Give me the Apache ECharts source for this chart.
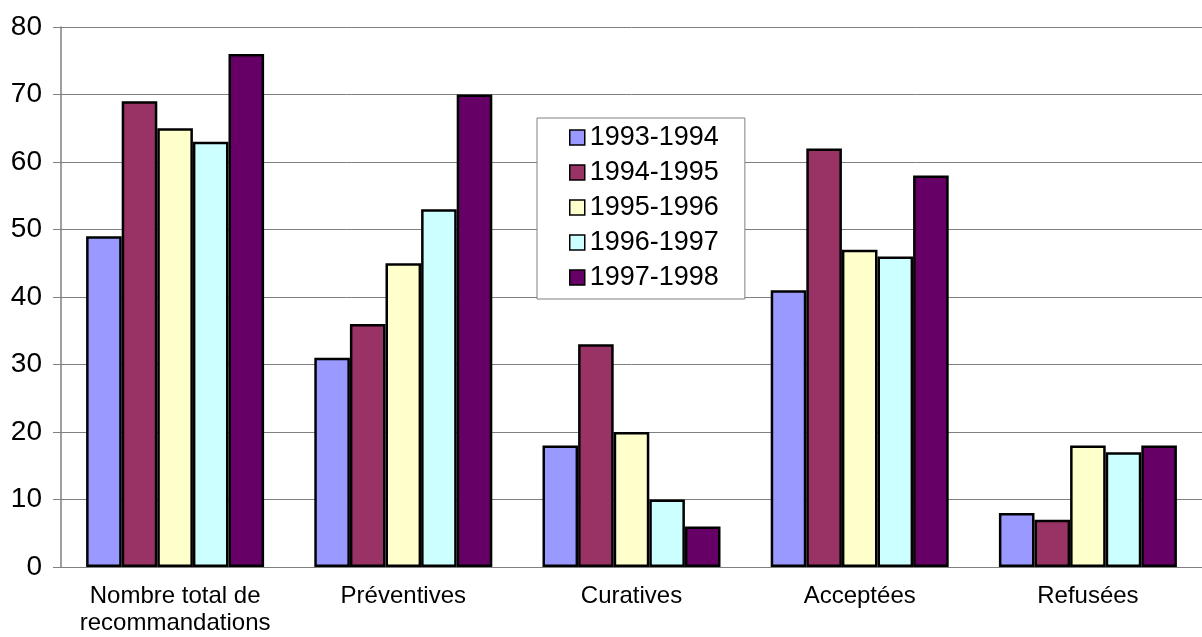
<!DOCTYPE html>
<html>
<head>
<meta charset="utf-8">
<title>Recommandations</title>
<script src="https://cdn.jsdelivr.net/npm/echarts@6/dist/echarts.min.js"></script>
<style>
  html, body { margin: 0; padding: 0; background: #fff; }
  #chart { width: 1202px; height: 637px; }
</style>
</head>
<body>
<div id="chart"></div>
<script>
const categories = ['Nombre total de\nrecommandations', 'Préventives', 'Curatives', 'Acceptées', 'Refusées']
const seriesNames = ['1993-1994', '1994-1995', '1995-1996', '1996-1997', '1997-1998']
const v1993 = [49, 31, 18, 41, 8]
const v1994 = [69, 36, 33, 62, 7]
const v1995 = [65, 45, 20, 47, 18]
const v1996 = [63, 53, 10, 46, 17]
const v1997 = [76, 70, 6, 58, 18]
const colors = ['#9999FF', '#993366', '#FFFFCC', '#CCFFFF', '#660066']

const values = [v1993, v1994, v1995, v1996, v1997]
const font = 'Liberation Sans, Arial, sans-serif'

const chart = echarts.init(document.getElementById('chart'))

chart.setOption({
  animation: false,
  textStyle: { fontFamily: font },
  grid: { left: 61, right: -10, top: 27, bottom: 70 },
  legend: {
    orient: 'vertical',
    left: 537,
    top: 118,
    padding: [6, 26, 8, 32],
    itemWidth: 15,
    itemHeight: 15,
    itemGap: 8,
    icon: 'rect',
    borderColor: '#808080',
    borderWidth: 1,
    backgroundColor: '#fff',
    textStyle: { fontSize: 27, color: '#000', fontFamily: font },
    itemStyle: { borderColor: '#000', borderWidth: 1.5 },
    data: seriesNames
  },
  xAxis: {
    type: 'category',
    data: categories,
    axisLine: { lineStyle: { color: '#808080', width: 1 } },
    axisTick: { alignWithLabel: false, length: 8, lineStyle: { color: '#808080' } },
    axisLabel: { color: '#000', fontSize: 24, lineHeight: 27, margin: 16, fontFamily: font, interval: 0 }
  },
  yAxis: {
    type: 'value',
    min: 0,
    max: 80,
    interval: 10,
    axisLine: { show: true, lineStyle: { color: '#808080', width: 1.5 } },
    axisTick: { show: true, length: 8, lineStyle: { color: '#808080' } },
    axisLabel: { color: '#000', fontSize: 28, margin: 19, fontFamily: font },
    splitLine: { lineStyle: { color: '#808080', width: 1 } }
  },
  series: seriesNames.map((name, i) => ({
    name,
    type: 'bar',
    data: values[i],
    barGap: '0%',
    barCategoryGap: '22%',
    itemStyle: { color: colors[i], borderColor: '#000', borderWidth: 2.5 }
  }))
})
</script>
</body>
</html>
